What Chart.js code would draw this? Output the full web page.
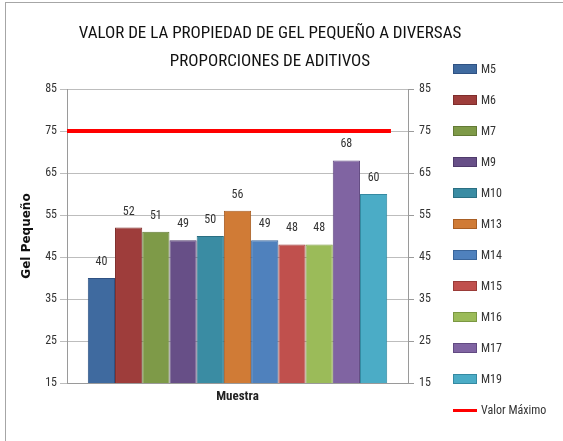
<!DOCTYPE html>
<html>
<head>
<meta charset="utf-8">
<script src="https://cdn.jsdelivr.net/npm/chart.js@4/dist/chart.umd.min.js"></script>
<style>
  html, body { margin: 0; padding: 0; background: #fff; }
  #wrap { position: relative; width: 563px; height: 441px; overflow: hidden; }
  #frame { position: absolute; left: 5px; top: 2px; right: -2px; bottom: -2px;
           border-left: 1px solid #a6a6a6; border-top: 1px solid #a6a6a6; pointer-events: none; }
  #leyenda { position: absolute; left: 453px; top: 0; margin: 0; padding: 0; list-style: none;
             font: 12px 'Roboto Condensed', sans-serif; color: #333; }
  #leyenda li { position: absolute; left: 0; height: 14px; display: flex; align-items: center;
                white-space: nowrap; }
  #leyenda .caja { width: 22px; height: 8px; border: 1px solid; margin-right: 4px; }
  #leyenda .linea { width: 24px; height: 3px; margin-right: 4px; }
</style>
</head>
<body>
<div id="wrap">
  <canvas id="barChart" width="563" height="441"></canvas>
  <ul id="leyenda"></ul>
  <div id="frame"></div>
</div>
<script>
var COND = "'Roboto Condensed', 'DejaVu Sans Condensed', sans-serif"

// datos
var muestras = ['M5', 'M6', 'M7', 'M9', 'M10', 'M13', 'M14', 'M15', 'M16', 'M17', 'M19']
var gelPequeno = [40, 52, 51, 49, 50, 56, 49, 48, 48, 68, 60]
var valorMaximo = 75
var etiquetaMaximo = 'Valor Máximo'
var yTicks = [15, 25, 35, 45, 55, 65, 75, 85]

var colores = ['#3F6A9F', '#9E3D3B', '#7E9A48', '#674F87', '#3A8CA3', '#D07B36',
               '#4F81BD', '#C0504D', '#9BBB59', '#8064A2', '#4BACC6']
var bordes = ['#2F5283', '#7F2D2B', '#637A35', '#4F3A6B', '#2A6F82', '#A85E24',
              '#3A659A', '#9A3B38', '#7B9842', '#624A82', '#358AA2']
var colorMaximo = '#FF0000'

var datasets = muestras.map(function (m, i) {
  return {
    label: m,
    data: [gelPequeno[i]],
    backgroundColor: colores[i],
    borderColor: bordes[i],
    borderWidth: 1,
    categoryPercentage: 0.878,
    barPercentage: 1
  }
})

// linea horizontal del valor maximo (a traves de la escala y)
var lineaMaxima = {
  id: 'lineaMaxima',
  afterDatasetsDraw: function (chart) {
    var ctx = chart.ctx
    var area = chart.chartArea
    var y = chart.scales.y.getPixelForValue(valorMaximo)
    ctx.save()
    ctx.strokeStyle = colorMaximo
    ctx.lineWidth = 4
    ctx.beginPath()
    ctx.moveTo(area.left, y)
    ctx.lineTo(area.left + area.width * 0.95, y)
    ctx.stroke()
    ctx.restore()
  }
}

// etiquetas de valor sobre las barras
var etiquetas = {
  id: 'etiquetas',
  afterDatasetsDraw: function (chart) {
    var ctx = chart.ctx
    ctx.save()
    ctx.font = '12px ' + COND
    ctx.fillStyle = '#333'
    ctx.textAlign = 'center'
    ctx.textBaseline = 'middle'
    chart.data.datasets.forEach(function (ds, i) {
      var bar = chart.getDatasetMeta(i).data[0]
      ctx.fillText(ds.data[0], bar.x, bar.y - 16)
    })
    ctx.restore()
  }
}

// leyenda en HTML, a la derecha
var leyendaHtml = {
  id: 'leyendaHtml',
  afterUpdate: function (chart) {
    var ul = document.getElementById('leyenda')
    ul.innerHTML = ''
    var items = chart.options.plugins.legend.labels.generateLabels(chart)
    items.push({ text: etiquetaMaximo, linea: true, strokeStyle: colorMaximo })
    items.forEach(function (item, i) {
      var li = document.createElement('li')
      li.style.top = (62 + 31 * i) + 'px'
      var marca = document.createElement('span')
      if (item.linea) {
        marca.className = 'linea'
        marca.style.background = item.strokeStyle
      } else {
        marca.className = 'caja'
        marca.style.background = item.fillStyle
        marca.style.borderColor = item.strokeStyle
      }
      li.appendChild(marca)
      li.appendChild(document.createTextNode(item.text))
      ul.appendChild(li)
    })
  }
}

var CHART = document.getElementById('barChart')

let barChart = new Chart(CHART, {
  type: 'bar',
  data: {
    labels: [''],
    datasets: datasets
  },
  options: {
    responsive: false,
    animation: false,
    layout: { padding: { left: 0, right: 23, top: 0, bottom: 0 } },
    plugins: {
      title: {
        display: true,
        text: ['VALOR DE LA PROPIEDAD DE GEL PEQUEÑO A DIVERSAS', 'PROPORCIONES DE ADITIVOS'],
        color: '#111',
        font: { family: COND, size: 17, weight: 'normal', lineHeight: '28px' },
        padding: { top: 20, bottom: 13 }
      },
      legend: { display: false },
      tooltip: { enabled: false }
    },
    scales: {
      x: {
        type: 'category',
        offset: true,
        ticks: { display: false },
        grid: { display: false },
        border: { display: true, color: '#9a9a9a' },
        title: {
          display: true,
          text: 'Muestra',
          color: '#222',
          font: { family: COND, size: 13, weight: 'bold' },
          padding: { top: 0, bottom: 36 }
        },
        afterFit: function (scale) { scale.height = 58 }
      },
      y: {
        position: 'left',
        min: 15,
        max: 85,
        afterBuildTicks: function (scale) {
          scale.ticks = yTicks.map(function (v) { return { value: v } })
        },
        ticks: { color: '#333', padding: 3, font: { family: COND, size: 12 } },
        grid: { color: '#bdbdbd', tickLength: 7 },
        border: { color: '#9a9a9a' },
        title: {
          display: true,
          text: 'Gel Pequeño',
          color: '#111',
          font: { family: "'DejaVu Sans', sans-serif", size: 12, weight: 'bold' },
          padding: { top: 20, bottom: 0 }
        },
        afterFit: function (scale) { scale.width = 67 }
      },
      y2: {
        position: 'right',
        min: 15,
        max: 85,
        afterBuildTicks: function (scale) {
          scale.ticks = yTicks.map(function (v) { return { value: v } })
        },
        ticks: { color: '#333', padding: 5, font: { family: COND, size: 12 } },
        grid: { drawOnChartArea: false, color: '#9a9a9a', tickLength: 6 },
        border: { color: '#9a9a9a' },
        afterFit: function (scale) { scale.width = 132 }
      }
    }
  },
  plugins: [lineaMaxima, etiquetas, leyendaHtml]
})
</script>
</body>
</html>
